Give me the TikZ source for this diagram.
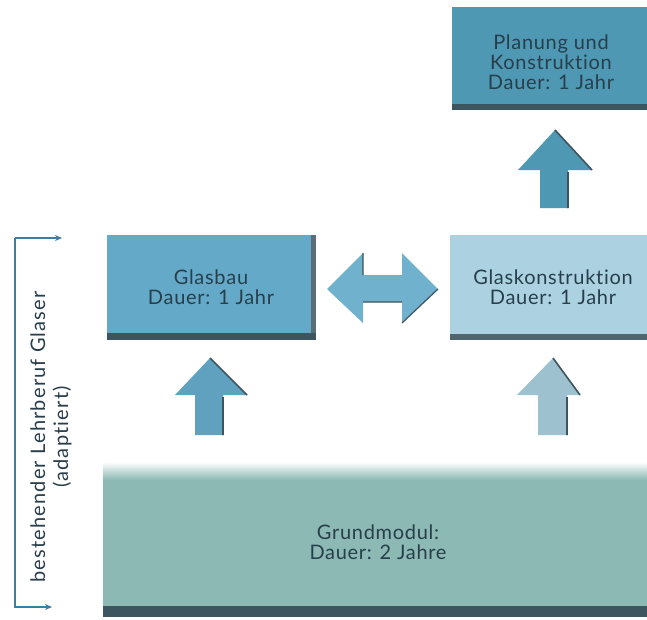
\documentclass[tikz,border=0pt]{standalone}
\usepackage{fontspec}
\setmainfont{Lato}
\newfontfamily\labelfont[LetterSpace=3.5,Ligatures=NoCommon]{Lato}
\newfontfamily\sidefont[LetterSpace=6,Ligatures=NoCommon]{Lato}
\definecolor{cPlan}{RGB}{78,152,180}
\definecolor{cBau}{RGB}{100,170,200}
\definecolor{cKon}{RGB}{172,210,226}
\definecolor{cGrund}{RGB}{140,185,180}
\definecolor{cShadow}{RGB}{60,85,95}
\definecolor{cText}{RGB}{40,62,75}
\definecolor{cBracket}{RGB}{60,125,160}
\usetikzlibrary{arrows.meta}
\tikzset{
  box/.style={draw=none, inner sep=0pt},
  boxtext/.style={text=cText, align=center, inner sep=0pt, font=\labelfont\fontsize{20}{20}\selectfont},
  arrshadow/.style={draw=cShadow, line width=1.6pt},
  bracket/.style={draw=cBracket, line width=1.2pt, -{Stealth[length=7pt,width=6pt]}},
}
\begin{document}
\begin{tikzpicture}[x=1pt,y=-1pt]
\useasboundingbox[fill=white] (0,0) rectangle (647,619);
% boxes
\node[box, fill=cPlan, minimum width=195pt, minimum height=103pt] (plan) at (549.5,58.5) {};
\node[boxtext] (plantext) at (551,62) {Planung und\\Konstruktion\\Dauer: 1 Jahr};
\node[box, fill=cKon, minimum width=197pt, minimum height=105pt] (kon) at (548.5,287.5) {};
\node[boxtext] (kontext) at (553,287) {Glaskonstruktion\\Dauer: 1 Jahr};
\node[box, fill=cBau, minimum width=209pt, minimum height=105pt] (bau) at (211.5,287.5) {};
\node[boxtext] (bautext) at (211,287) {Glasbau\\Dauer: 1 Jahr};
\node[box, fill=cGrund, minimum width=544pt, minimum height=155pt] (grund) at (375,539.5) {};
\shade[top color=white, bottom color=cGrund] (grund.north west) rectangle ([yshift=-18pt]grund.north east);
\node[boxtext] (grundtext) at (378,542) {Grundmodul:\\Dauer: 2 Jahre};
% box shadows
\fill[cShadow] ([yshift=6pt]plan.south west) rectangle (plan.south east);
\fill[cShadow!90] ([yshift=6pt]kon.south west) rectangle (kon.south east);
\fill[cShadow] ([yshift=7pt]bau.south west) rectangle (bau.south east);
\fill[cShadow!85] ([xshift=-5pt]bau.north east) rectangle ([yshift=7pt]bau.south east);
\fill[cShadow] ([yshift=11pt]grund.south west) rectangle (grund.south east);
% block arrows
\fill[cPlan] (555,130) -- (592,170) -- (568,170) -- (568,208) -- (540,208) -- (540,170) -- (518,170) -- cycle;
\draw[arrshadow] (555,130) -- (592,170) (568,172) -- (568,208);
\fill[cBau!95!black] (210,358) -- (247,395) -- (223,395) -- (223,435) -- (195,435) -- (195,395) -- (175,395) -- cycle;
\draw[arrshadow] (210,358) -- (247,395) (223,397) -- (223,435);
\fill[cKon!92!black] (553,358) -- (580,395) -- (567,395) -- (567,435) -- (538,435) -- (538,395) -- (517,395) -- cycle;
\draw[arrshadow] (553,358) -- (580,395) (567,397) -- (567,435);
\fill[cBau!92!white] (327,289) -- (363,253) -- (363,275) -- (402,275) -- (402,253) -- (438,289) -- (402,323) -- (402,302) -- (363,302) -- (363,323) -- cycle;
\draw[arrshadow, line width=1.2pt] (438,289) -- (402,323) (363,302) -- (402,302) (363,253) -- (363,275);
% bracket
\coordinate (btop) at (62,238);
\coordinate (bbot) at (52,607);
\coordinate (bl1) at (15,238);
\coordinate (bl2) at (15,607);
\draw[bracket] (bl1) -- (btop);
\draw[bracket] (bl1) -- (bl2) -- (bbot);
\node[rotate=90, text=cText, align=center, font=\sidefont\fontsize{20}{23}\selectfont] (lbl) at (51,437) {bestehender Lehrberuf Glaser\\(adaptiert)};
\end{tikzpicture}
\end{document}
